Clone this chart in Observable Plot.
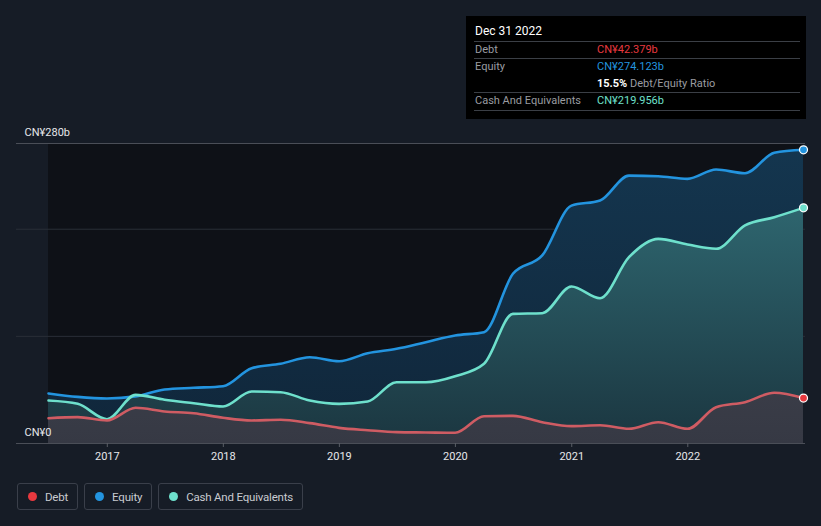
<!DOCTYPE html>
<html>
<head>
<meta charset="utf-8">
<script src="https://cdn.jsdelivr.net/npm/d3@7"></script>
<script src="https://cdn.jsdelivr.net/npm/@observablehq/plot@0.6"></script>
<style>
  html, body { margin: 0; padding: 0; background: #161c26; width: 821px; height: 526px; overflow: hidden; font-family: Roboto, "Noto Sans", sans-serif; }
  #chart { position: absolute; left: 0; top: 0; }
  #tip { position: absolute; left: 466px; top: 16px; width: 340px; height: 103px; background: #000; color: #fff; font-size: 11px; }
  #tip .title { position: absolute; left: 9px; top: 8px; font-size: 12px; color: #fff; }
  #tip .sep { position: absolute; left: 8px; right: 6px; height: 1px; background: #3b3f46; }
  #tip .lab { position: absolute; left: 9px; color: #9a9ca1; }
  #tip .val { position: absolute; left: 131px; }
  #legend { position: absolute; left: 17px; top: 483px; display: flex; gap: 6px; }
  #legend .item { box-sizing: border-box; height: 27px; border: 1px solid #3a3f4a; border-radius: 3px; display: flex; align-items: center; padding: 0 9px 0 10px; color: #c9cbd0; font-size: 11.5px; letter-spacing: -0.2px; }
  #legend .dot { width: 9px; height: 9px; border-radius: 50%; margin-right: 8px; }
</style>
</head>
<body>
<div id="chart"></div>
<div id="tip"></div>
<div id="legend"></div>
<script>
// ---- data (CN¥ billions, quarterly) ----
const dates = [
  "2016-06-30","2016-09-30","2016-12-31","2017-03-31","2017-06-30","2017-09-30","2017-12-31",
  "2018-03-31","2018-06-30","2018-09-30","2018-12-31","2019-03-31","2019-06-30","2019-09-30","2019-12-31",
  "2020-03-31","2020-06-30","2020-09-30","2020-12-31","2021-03-31","2021-06-30","2021-09-30","2021-12-31",
  "2022-03-31","2022-06-30","2022-09-30","2022-12-31"
];
const debt = [23.6, 24.6, 21.5, 33.3, 29.9, 28.3, 24.0, 21.5, 22.1, 19.0, 14.6, 12.4, 10.6, 10.3, 10.0,
  25.5, 25.8, 19.9, 16.2, 17.0, 13.7, 19.9, 13.7, 33.9, 38.6, 47.3, 42.379];
const equity = [46.7, 43.5, 42.0, 44.0, 50.4, 52.0, 53.5, 70.3, 74.4, 80.5, 76.8, 84.3, 88.4, 94.6, 100.8,
  103.9, 158.4, 175.5, 222.0, 226.8, 250.0, 249.5, 247.0, 255.7, 252.3, 271.3, 274.123];
const cash = [40.1, 37.0, 22.7, 45.4, 40.8, 37.6, 34.5, 48.5, 47.9, 40.1, 37.0, 39.2, 57.2, 57.2, 62.8,
  74.4, 121.0, 121.6, 146.5, 135.6, 173.9, 191.0, 185.7, 181.7, 203.5, 211.2, 219.956];
const yTicks = [0, 280];
const yGrid = [0, 100, 200, 280];
const seriesNames = ["Debt", "Equity", "Cash And Equivalents"];
const colors = { debt: "#e8393f", debtLine: "#cf5c63", equity: "#2394df", cash: "#6ee0cc" };

const data = dates.map((d, i) => ({ date: new Date(d), debt: debt[i], equity: equity[i], cash: cash[i] }));
const first = data[0], last = data[data.length - 1];

const plot = Plot.plot({
  width: 821,
  height: 470,
  marginLeft: 16,
  marginRight: 16,
  marginTop: 143,
  marginBottom: 27,
  style: { background: "transparent", fontFamily: "Roboto, sans-serif" },
  x: { type: "utc", domain: [first.date, last.date], range: [48, 803] },
  y: { domain: [0, 280] },
  marks: [
    Plot.rect([0], { x1: () => first.date, x2: () => last.date, y1: 0, y2: 280, fill: "#0e1117" }),
    Plot.ruleY(yGrid, { stroke: d => (d === 0 || d === 280) ? "#4a4e57" : "#2a2f38", strokeWidth: 1 }),
    Plot.areaY(data, { x: "date", y: "equity", curve: "monotone-x", fill: "url(#gEq)" }),
    Plot.areaY(data, { x: "date", y: "cash", curve: "monotone-x", fill: "url(#gCash)" }),
    Plot.areaY(data, { x: "date", y: "debt", curve: "monotone-x", fill: "url(#gDebt)" }),
    Plot.lineY(data, { x: "date", y: "equity", curve: "monotone-x", stroke: colors.equity, strokeWidth: 2.6 }),
    Plot.lineY(data, { x: "date", y: "cash", curve: "monotone-x", stroke: colors.cash, strokeWidth: 2.6 }),
    Plot.lineY(data, { x: "date", y: "debt", curve: "monotone-x", stroke: colors.debtLine, strokeWidth: 2.6 }),
    Plot.dot([last], { x: "date", y: "equity", r: 4, fill: colors.equity, stroke: "#fff", strokeWidth: 1.2 }),
    Plot.dot([last], { x: "date", y: "cash", r: 4, fill: colors.cash, stroke: "#fff", strokeWidth: 1.2 }),
    Plot.dot([last], { x: "date", y: "debt", r: 4, fill: colors.debt, stroke: "#fff", strokeWidth: 1.2 }),
    Plot.text(yTicks, { y: d => d, frameAnchor: "left", dx: 8, dy: -11, textAnchor: "start",
      text: d => d === 0 ? "CN¥0" : `CN¥${d}b`, fill: "#e6e7ea", fontSize: 11 }),
    Plot.axisX({ ticks: d3.utcYear.every(1), tickFormat: "%Y", tickSize: 4, tickPadding: 5,
      stroke: "#5a5e66", fill: "#e6e7ea", fontSize: 11, label: null }),
    Plot.axisY({ ticks: [], label: null })
  ]
});

// gradients
const svg = d3.select(plot);
const defs = svg.insert("defs", ":first-child");
function grad(id, top, bottom) {
  const g = defs.append("linearGradient").attr("id", id)
    .attr("gradientUnits", "userSpaceOnUse").attr("x1", 0).attr("x2", 0).attr("y1", 143).attr("y2", 443);
  g.append("stop").attr("offset", "0%").attr("stop-color", top);
  g.append("stop").attr("offset", "100%").attr("stop-color", bottom);
}
grad("gEq", "#14364f", "#10263a");
grad("gCash", "#33727b", "#1b3640");
grad("gDebt", "#4d4d58", "#363944");
document.getElementById("chart").appendChild(plot);

// tooltip
const tip = document.getElementById("tip");
const fmt = v => "CN¥" + v.toFixed(3) + "b";
tip.innerHTML = `
  <div class="title">${d3.utcFormat("%b %d %Y")(last.date)}</div>
  <div class="sep" style="top:25px"></div>
  <div class="lab" style="top:27px">${seriesNames[0]}</div>
  <div class="val" style="top:27px;color:${colors.debt}">${fmt(last.debt)}</div>
  <div class="sep" style="top:42px"></div>
  <div class="lab" style="top:44px">${seriesNames[1]}</div>
  <div class="val" style="top:44px;color:${colors.equity}">${fmt(last.equity)}</div>
  <div class="val" style="top:61px;color:#9a9ca1"><b style="color:#fff">${(last.debt / last.equity * 100).toFixed(1)}%</b> Debt/Equity Ratio</div>
  <div class="sep" style="top:76px"></div>
  <div class="lab" style="top:78px">${seriesNames[2]}</div>
  <div class="val" style="top:78px;color:${colors.cash}">${fmt(last.cash)}</div>
  <div class="sep" style="top:94px"></div>`;

// legend
const legend = document.getElementById("legend");
const legendColors = [colors.debt, colors.equity, colors.cash];
seriesNames.forEach((n, i) => {
  const it = document.createElement("div");
  it.className = "item";
  it.innerHTML = `<span class="dot" style="background:${legendColors[i]}"></span>${n}`;
  legend.appendChild(it);
});
</script>
</body>
</html>
